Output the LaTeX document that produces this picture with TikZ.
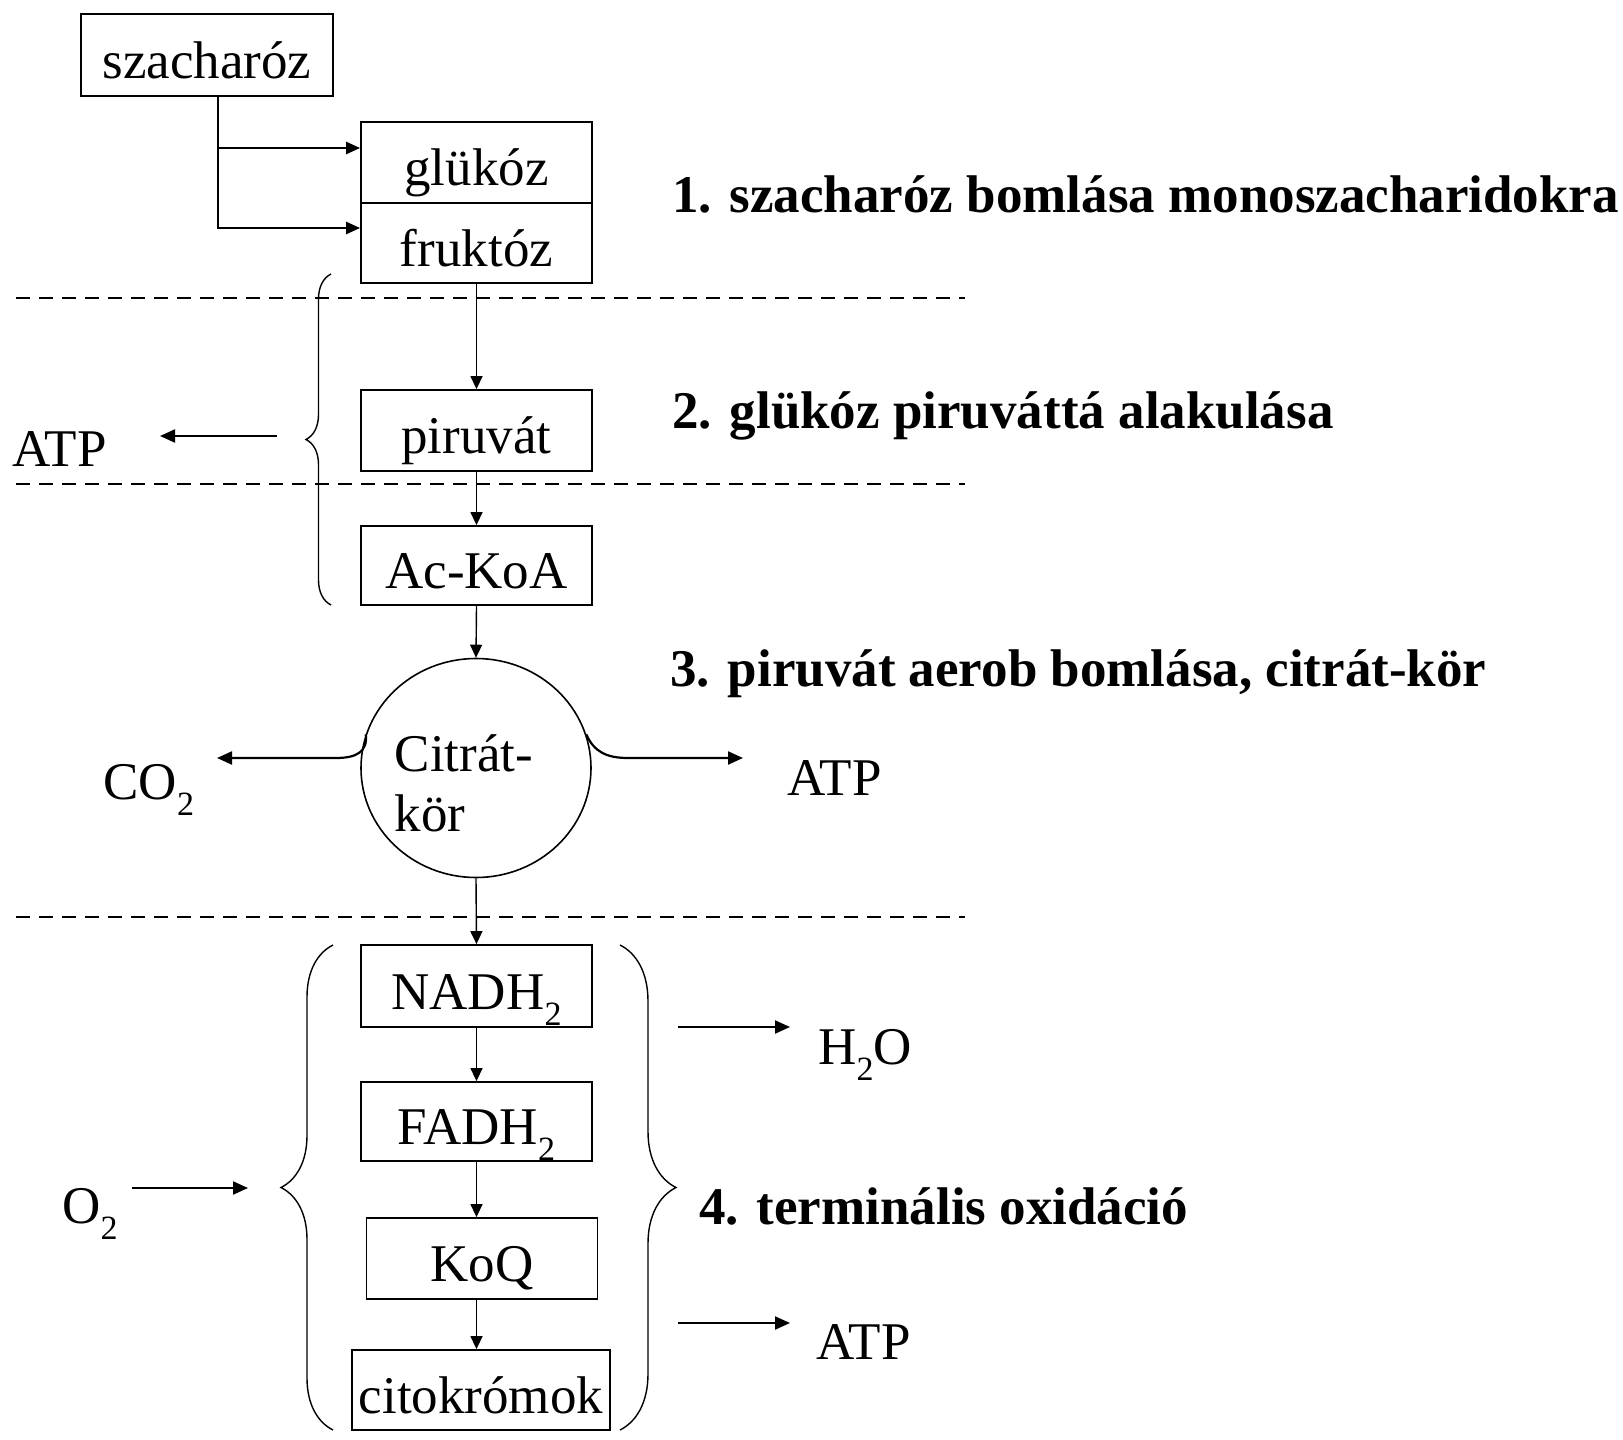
\documentclass[tikz,border=0pt]{standalone}
\usepackage{fontspec}
\setmainfont{Liberation Serif}
\usetikzlibrary{arrows.meta,shapes.geometric,decorations.pathreplacing}
\newcommand{\lowsub}[1]{\raisebox{-8pt}{\fontsize{17}{17}\selectfont #1}}

\begin{document}
\begin{tikzpicture}[x=0.5pt,y=-0.5pt,font=\fontsize{26.5}{30}\selectfont,
    >={Triangle[length=6.5pt,width=6pt]}]
  \tikzstyle{box}=[rectangle,draw,line width=0.9pt,inner sep=0pt,minimum width=115.5pt,minimum height=40pt,text height=23pt,text depth=0pt]
  \tikzstyle{phase}=[anchor=base west,inner sep=0pt,font=\fontsize{26.5}{30}\selectfont\bfseries]
  \tikzstyle{molec}=[anchor=base west,inner sep=0pt]
  \tikzstyle{divider}=[dash pattern=on 7pt off 4.5pt,line width=1.3pt]
  \tikzstyle{flow}=[->,line width=0.7pt]
  \tikzstyle{side}=[->,line width=1.1pt,>={Triangle[length=7.5pt,width=6.5pt]}]
  \tikzstyle{bracket}=[decorate,line width=0.7pt]

  \useasboundingbox (0,0) rectangle (1623,1440);

  \node[box,minimum width=126pt,minimum height=40.75pt] (szach) at (207,55) {szacharóz};
  \node[box,minimum height=40.5pt] (gluk) at (476.5,162.5) {glükóz};
  \node[box] (fruk) at (476.5,243) {fruktóz};
  \node[box,minimum height=40.5pt] (piru) at (476.5,430.5) {piruvát};
  \node[box,minimum height=39.5pt] (acko) at (476.5,565.5) {Ac-KoA};
  \node[ellipse,draw,line width=0.8pt,inner sep=0pt,minimum width=115pt,minimum height=109.5pt,align=left] (citr) at (476,768) {\rule{0pt}{34pt}Citrát-\hspace*{12pt}\\kör};
  \node[box,minimum height=41pt] (nadh) at (476.5,986) {NADH\lowsub{2}};
  \node[box,minimum height=39.5pt] (fadh) at (476.5,1121.5) {FADH\lowsub{2}};
  \node[box,minimum height=40.5pt] (koq) at (482,1258.5) {KoQ};
  \node[box,minimum width=129pt,minimum height=40pt] (cito) at (481,1390) {citokrómok};

  % szakaszok
  \node[phase] (lab1) at (672,212) {1. szacharóz bomlása monoszacharidokra};
  \node[phase] (lab2) at (672,428) {2. glükóz piruváttá alakulása};
  \node[phase] (lab3) at (670,686) {3. piruvát aerob bomlása, citrát-kör};
  \node[phase] (lab4) at (699,1224) {4. terminális oxidáció};

  \node[molec] (atp1) at (12,466) {ATP};
  \node[molec] (co2) at (103,799) {CO\lowsub{2}};
  \node[molec] (atp2) at (787,795) {ATP};
  \node[molec] (h2o) at (818,1064) {H\lowsub{2}O};
  \node[molec] (atp3) at (816,1359) {ATP};
  \node[molec] (o2) at (62,1223) {O\lowsub{2}};

  \draw[divider] (16,298) -- (965,298);
  \draw[divider] (16,484) -- (965,484);
  \draw[divider] (16,917) -- (965,917);

  \draw[->,line width=1.3pt,>={Triangle[length=7pt,width=6pt]}] ([xshift=5.5pt]szach.south) |- ([yshift=7.5pt]fruk.west);
  \draw[->,line width=1.3pt,>={Triangle[length=7pt,width=6pt]}] ([xshift=5.5pt]szach.south) |- ([yshift=7.25pt]gluk.west);

  \draw[flow] (fruk.south) -- (piru.north);
  \draw[flow] (piru.south) -- (acko.north);
  \draw[flow] (acko.south) -- (citr.north);
  \draw[flow] (citr.south) -- (nadh.north);
  \draw[flow] (nadh.south) -- (fadh.north);
  \draw[flow] (fadh.south) -- (fadh.south |- koq.north);
  \draw[flow] (koq.south -| fadh.south) -- (cito.north -| fadh.south);

  % kapcsos zarojelek
  \draw[bracket,decoration={brace,amplitude=12.5pt}] (331,605) -- (331,274);
  \draw[bracket,decoration={brace,amplitude=26pt}] (333,1430) -- (333,945);
  \draw[bracket,decoration={brace,amplitude=28pt}] (620,945) -- (620,1430);

  \coordinate (atp1from) at (277,436);
  \coordinate (atp1to) at (160,436);
  \coordinate (co2bend) at (336,758);
  \coordinate (co2to) at (217,758);
  \coordinate (atp2bend) at (628,758);
  \coordinate (atp2to) at (743,758);
  \coordinate (o2from) at (132,1188);
  \coordinate (o2to) at (248,1188);
  \coordinate (h2ofrom) at (678,1027);
  \coordinate (h2oto) at (790,1027);
  \coordinate (atp3from) at (678,1323);
  \coordinate (atp3to) at (790,1323);

  \draw[side] (atp1from) -- (atp1to);
  \draw[side] (citr.163) .. controls (368,752) and (356,758) .. (co2bend) -- (co2to);
  \draw[side] (citr.17) .. controls (594,752) and (607,758) .. (atp2bend) -- (atp2to);
  \draw[side] (o2from) -- (o2to);
  \draw[side] (h2ofrom) -- (h2oto);
  \draw[side] (atp3from) -- (atp3to);
\end{tikzpicture}
\end{document}
